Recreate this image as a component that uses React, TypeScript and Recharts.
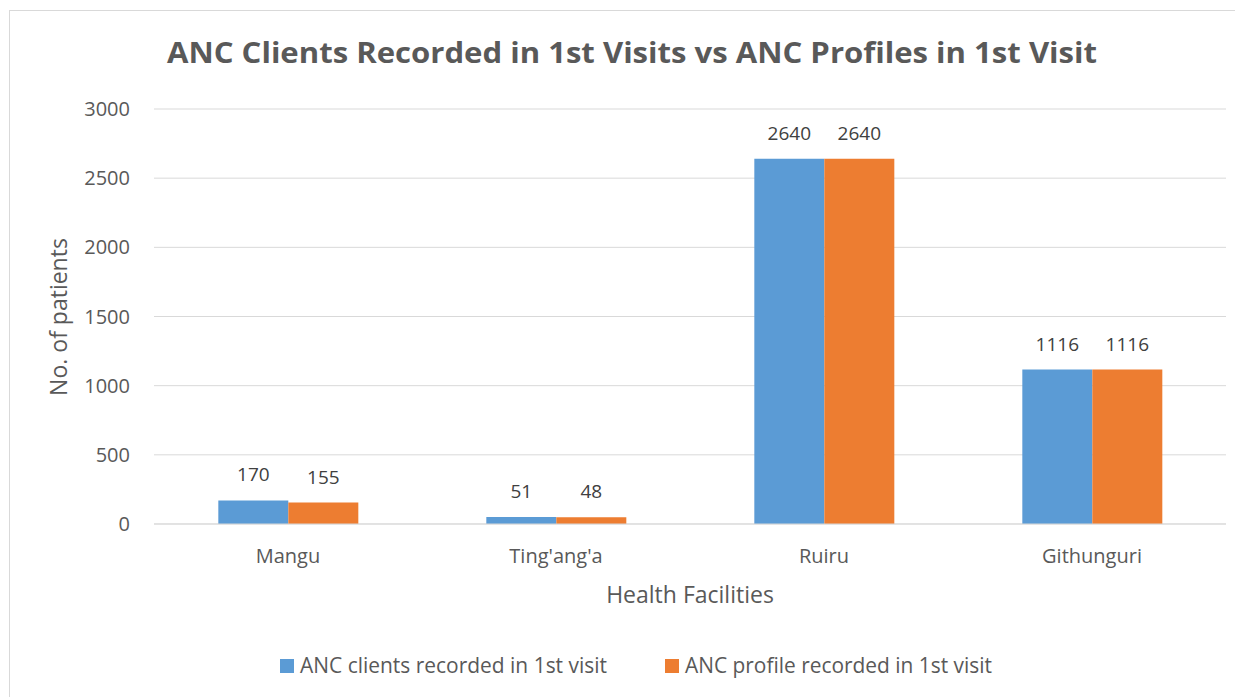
import { BarChart, Bar, XAxis, YAxis, CartesianGrid, Legend, LabelList } from 'recharts'

const categories = ['Mangu', "Ting'ang'a", 'Ruiru', 'Githunguri']
const clientsFirstVisit = [170, 51, 2640, 1116]
const profilesFirstVisit = [155, 48, 2640, 1116]
const yTicks = [0, 500, 1000, 1500, 2000, 2500, 3000]

const SERIES = [
  { key: 'clients', name: 'ANC clients recorded in 1st visit', color: '#5B9BD5', x: 0 },
  { key: 'profiles', name: 'ANC profile recorded in 1st visit', color: '#ED7D31', x: 385 },
]

const TEXT = '#595959'
const FONT = '"Open Sans", Lato, sans-serif'

const chartData = categories.map((c, i) => ({
  name: c,
  clients: clientsFirstVisit[i],
  profiles: profilesFirstVisit[i],
}))

function LegendContent() {
  return (
    <svg width={720} height={30} style={{ display: 'block' }}>
      {SERIES.map((s) => (
        <g key={s.key}>
          <rect x={s.x} y={9} width={14} height={14} fill={s.color} />
          <text
            x={s.x + 20}
            y={23}
            fontSize={21}
            fill={TEXT}
            fontFamily={FONT}
            textLength={307}
            lengthAdjust="spacingAndGlyphs"
          >
            {s.name}
          </text>
        </g>
      ))}
    </svg>
  )
}

export default function App() {
  return (
    <div style={{ position: 'relative', width: 1235, height: 689, fontFamily: FONT }}>
      <div
        style={{
          position: 'absolute',
          left: 1,
          top: 2,
          width: 1240,
          height: 700,
          border: '1px solid #d9d9d9',
          boxSizing: 'border-box',
        }}
      />
      <BarChart
        width={1235}
        height={689}
        data={chartData}
        margin={{ top: 101, right: 17, left: 56, bottom: 63 }}
        barCategoryGap="24%"
        barGap={0}
        style={{ position: 'absolute', left: 0, top: 0 }}
      >
        <CartesianGrid vertical={false} stroke="#d9d9d9" />
        <XAxis
          dataKey="name"
          height={80}
          tickLine={false}
          axisLine={{ stroke: '#d9d9d9' }}
          tickSize={0}
          tickMargin={25}
          tick={{ fontSize: 20, fill: TEXT, fontFamily: FONT }}
        />
        <YAxis
          width={90}
          domain={[0, 3000]}
          ticks={yTicks}
          tickLine={false}
          axisLine={false}
          tickSize={0}
          tickMargin={24}
          tick={{ fontSize: 20, fill: TEXT, fontFamily: FONT }}
        />
        <Legend
          verticalAlign="bottom"
          content={<LegendContent />}
          wrapperStyle={{ top: 642, left: 272, width: 720, height: 30 }}
        />
        {SERIES.map((s) => (
          <Bar key={s.key} dataKey={s.key} name={s.name} fill={s.color} isAnimationActive={false}>
            <LabelList
              dataKey={s.key}
              position="top"
              offset={19}
              style={{ fontSize: 19, fill: '#404040', fontFamily: FONT }}
            />
          </Bar>
        ))}
      </BarChart>
      <svg
        width={1235}
        height={689}
        style={{ position: 'absolute', left: 0, top: 0, pointerEvents: 'none' }}
        fontFamily={FONT}
      >
        <text
          x={159}
          y={55}
          fontSize={28}
          fontWeight={700}
          fill={TEXT}
          textLength={930}
          lengthAdjust="spacingAndGlyphs"
        >
          ANC Clients Recorded in 1st Visits vs ANC Profiles in 1st Visit
        </text>
        <text x={682} y={595} fontSize={23} fill={TEXT} textAnchor="middle">
          Health Facilities
        </text>
        <text x={59} y={309} fontSize={23} fill={TEXT} textAnchor="middle" transform="rotate(-90 59 309)">
          No. of patients
        </text>
      </svg>
    </div>
  )
}
